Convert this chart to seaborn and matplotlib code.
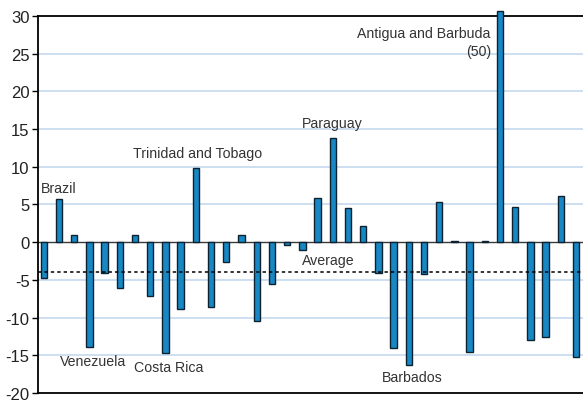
import numpy as np
import pandas as pd
import seaborn as sns
import matplotlib.pyplot as plt

# DATA
values = [-4.8, 5.7, 1.0, -13.9, -4.1, -6.1, 0.9, -7.2, -14.7, -8.9,
          9.8, -8.6, -2.7, 1.0, -10.4, -5.6, -0.4, -1.0, 5.9, 13.8,
          4.5, 2.2, -4.1, -14.1, -16.3, -4.2, 5.3, 0.2, -14.6, 0.2,
          50.0, 4.7, -13.0, -12.6, 6.1, -15.2]
average = -3.9
labels = ["Brazil", "Venezuela", "Costa Rica", "Trinidad and Tobago",
          "Paraguay", "Average", "Barbados", "Antigua and Barbuda\n(50)"]
label_x = [-0.2, 1.05, 5.9, 5.85, 17.0, 17.0, 22.2, 29.4]
label_y = [7.2, -15.8, -16.5, 11.8, 15.8, -2.4, -17.9, 26.5]
label_ha = ["left"] * 7 + ["right"]
yticks = list(range(-20, 31, 5))

sns.set_style("white")
plt.rcParams['font.family'] = ['Liberation Sans', 'DejaVu Sans']
plt.rcParams['axes.unicode_minus'] = False

df = pd.DataFrame({"pos": np.arange(len(values)),
                   "val": np.minimum(values, 30.6)})

fig = plt.figure(figsize=(5.83, 4.02), dpi=100)
ax = fig.add_axes([0.065, 0.02, 0.935, 0.938])

for t in yticks:
    if t not in (-20, 0, 30):
        ax.axhline(t, color="#c8dcef", lw=1.3, zorder=0)

sns.barplot(data=df, x="pos", y="val", color="#1788c4", saturation=1,
            width=0.42, edgecolor="#0d2230", linewidth=1.0, ax=ax, zorder=3)
for p in ax.patches:
    p.set_clip_on(False)

ax.axhline(0, color="#3a3a3a", lw=1.0, zorder=2)
ax.axhline(average, color="black", lw=1.1, ls=(0, (2.2, 2.0)), zorder=4)

ax.set_ylim(-20, 30)
ax.set_xlim(-0.39, 35.46)
ax.set_yticks(yticks)
ax.set_xticks([])
ax.set_xlabel("")
ax.set_ylabel("")
ax.tick_params(axis="y", direction="out", length=4, width=1, color="black",
               labelsize=12, labelcolor="#222222", pad=2, left=True)

for s in ["left", "bottom", "top"]:
    ax.spines[s].set_color("black")
    ax.spines[s].set_linewidth(1.3)
ax.spines["right"].set_visible(False)

for txt, x, y, ha in zip(labels, label_x, label_y, label_ha):
    ax.text(x, y, txt, ha=ha, va="center", fontsize=10.2, color="#333333",
            multialignment="right", linespacing=1.35, zorder=5)

fig.savefig("out.png", dpi=100)
